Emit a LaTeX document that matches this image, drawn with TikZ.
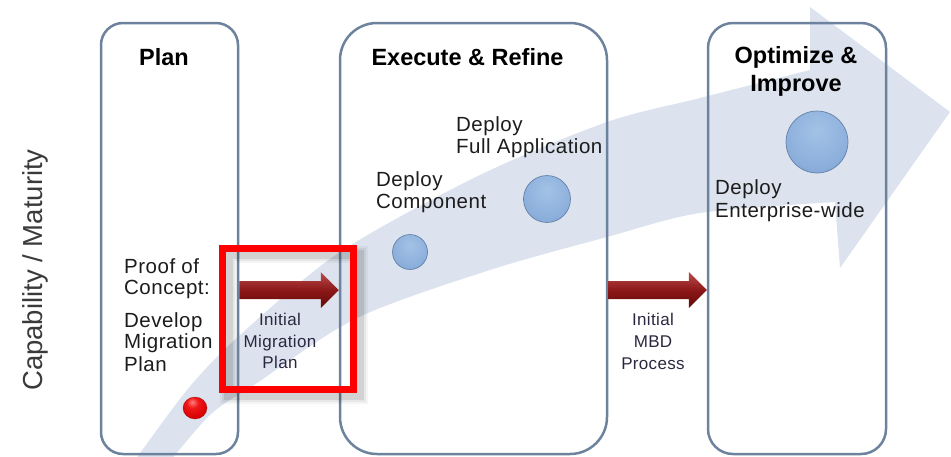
\documentclass[tikz,border=0pt]{standalone}
\usepackage{fontspec}
\setmainfont{Liberation Sans}
\usetikzlibrary{calc,shapes.geometric}

\definecolor{bandfill}{HTML}{DCE3EE}
\definecolor{boxline}{HTML}{6D829D}
\definecolor{inktext}{HTML}{1C1C1C}
\definecolor{hoptext}{HTML}{2A2840}
\definecolor{axistext}{HTML}{3A3A3A}
\definecolor{arrowtop}{HTML}{BC4C4C}
\definecolor{arrowmid}{HTML}{8C1818}
\definecolor{arrowbot}{HTML}{640808}
\definecolor{gemA}{HTML}{A3C2E6}
\definecolor{gemB}{HTML}{8DB0DC}
\definecolor{gemC}{HTML}{7DA2D2}
\definecolor{gemD}{HTML}{6288BA}
\definecolor{gemE}{HTML}{4A678E}
\definecolor{rubyA}{HTML}{FF8080}
\definecolor{rubyB}{HTML}{F01818}
\definecolor{rubyC}{HTML}{D80000}
\definecolor{rubyD}{HTML}{B00000}
\definecolor{rubyE}{HTML}{7A0000}

% glossy sphere shadings, lit from above
\pgfdeclareradialshading{gemblue}{\pgfpoint{0bp}{10bp}}{%
  color(0bp)=(gemA); color(25bp)=(gemB); color(40bp)=(gemC);
  color(50bp)=(gemD); color(58bp)=(gemE); color(80bp)=(gemE)}
\pgfdeclareradialshading{gemred}{\pgfpoint{-6bp}{14bp}}{%
  color(0bp)=(rubyA); color(12bp)=(rubyB); color(30bp)=(rubyC);
  color(46bp)=(rubyD); color(56bp)=(rubyE); color(80bp)=(rubyE)}

\tikzset{
  phase/.style={draw=boxline, line width=2.5pt, inner sep=0pt, fill=none},
  phasetitle/.style={font=\fontsize{23.5}{28}\selectfont\bfseries, text=black, inner sep=0pt, anchor=base},
  stepline/.style={font=\fontsize{20.5}{22}\selectfont\addfontfeature{LetterSpace=2.5}, text=inktext, inner sep=0pt, anchor=base west},
  hopline/.style={font=\fontsize{17}{21}\selectfont\addfontfeature{LetterSpace=2}, text=hoptext, inner sep=0pt, anchor=base},
  gem/.style={circle, inner sep=0pt, shade, shading=gemblue, draw=gemE, draw opacity=0.7, line width=0.7pt},
  ruby/.style={ellipse, inner sep=0pt, shade, shading=gemred, draw=rubyE, draw opacity=0.5, line width=0.5pt},
  arrowfill/.style={top color=arrowtop, bottom color=arrowbot, middle color=arrowmid},
  frameshadow/.style={draw=black, minimum width=131pt, minimum height=141pt, inner sep=0pt},
}

% fat block arrow between two named points
\newcommand{\blockarrow}[2]{%
  \path[arrowfill] ($(#1)+(0,-9)$) -- ($(#2)+(-18,-9)$) -- ($(#2)+(-18,-18)$) -- (#2)
    -- ($(#2)+(-18,18)$) -- ($(#2)+(-18,9)$) -- ($(#1)+(0,9)$) -- cycle;}

\begin{document}
\begin{tikzpicture}[x=1pt,y=-1pt]
\useasboundingbox (0,0) rectangle (951,456);

% broad growth arrow in the background
\begin{scope}
  \clip (0,0) rectangle (951,456);
  \fill[bandfill]
    plot[smooth, tension=0.5] coordinates {(128,470) (187,390) (240,335) (340,252) (480,175) (607,122) (700,98) (810,70)}
    -- (810,7) -- (950,112) -- (840,268) -- (835,202)
    -- plot[smooth, tension=0.5] coordinates {(835,202) (700,213) (607,237) (490,270) (357,318) (257,383) (210,415) (163,470)}
    -- cycle;
\end{scope}

% phase boxes
\node[phase, minimum width=137pt, minimum height=431pt, rounded corners=22pt] (plan) at (169.5,238.5) {};
\node[phase, minimum width=267pt, minimum height=431pt, rounded corners=37pt] (exec) at (473.5,238.5) {};
\node[phase, minimum width=178pt, minimum height=431pt, rounded corners=25pt] (opt) at (797,238.5) {};

% phase titles
\node[phasetitle] (planT) at (164,65) {Plan};
\node[phasetitle] (execT) at (467.5,65) {Execute \& Refine};
\node[phasetitle] (optT1) at (796,63) {Optimize \&};
\node[phasetitle] (optT2) at (796,91) {Improve};

% vertical axis caption
\node[font=\fontsize{27.5}{30}\selectfont, text=axistext, inner sep=0pt, anchor=base, rotate=90] (axis) at (42,270) {Capability / Maturity};

% soft shadow of the highlight frame
\node[frameshadow, draw opacity=0.04, line width=17pt] (focusS3) at (294,325) {};
\node[frameshadow, draw opacity=0.06, line width=13pt] (focusS2) at (294,325) {};
\node[frameshadow, draw opacity=0.09, line width=9pt] (focusS1) at (294,325) {};

% hand-over arrows
\coordinate (rowA) at (0,290);
\coordinate (aFrom) at (plan.east |- rowA);
\coordinate (aTo) at (exec.west |- rowA);
\coordinate (bFrom) at (exec.east |- rowA);
\coordinate (bTo) at (opt.west |- rowA);
\blockarrow{aFrom}{aTo}
\blockarrow{bFrom}{bTo}

% highlight frame around the first hand-over
\node[draw=red, line width=7pt, minimum width=131pt, minimum height=141pt, inner sep=0pt] (focus) at (288,319) {};

% step descriptions
\node[stepline] (s1a) at (124,273) {Proof of};
\node[stepline] (s1b) at (124,294) {Concept:};
\node[stepline] (s2a) at (124,327) {Develop};
\node[stepline] (s2b) at (124,348) {Migration};
\node[stepline] (s2c) at (124,371) {Plan};
\node[stepline] (s3a) at (376,186) {Deploy};
\node[stepline] (s3b) at (376,208) {Component};
\node[stepline] (s4a) at (456,131) {Deploy};
\node[stepline] (s4b) at (456,153) {Full Application};
\node[stepline] (s5a) at (715,194) {Deploy};
\node[stepline] (s5b) at (715,217) {Enterprise-wide};

% hand-over captions
\node[hopline] (h1a) at (280,325) {Initial};
\node[hopline] (h1b) at (280,347) {Migration};
\node[hopline] (h1c) at (280,368) {Plan};
\node[hopline] (h2a) at (653,325) {Initial};
\node[hopline] (h2b) at (653,347) {MBD};
\node[hopline] (h2c) at (653,369) {Process};

% milestones
\node[ruby, minimum width=24pt, minimum height=22pt] (m0) at (195,408) {};
\node[gem, minimum size=35pt] (m1) at (410,252) {};
\node[gem, minimum size=47pt] (m2) at (547,199) {};
\node[gem, minimum size=62pt] (m3) at (817,142) {};
\end{tikzpicture}
\end{document}
